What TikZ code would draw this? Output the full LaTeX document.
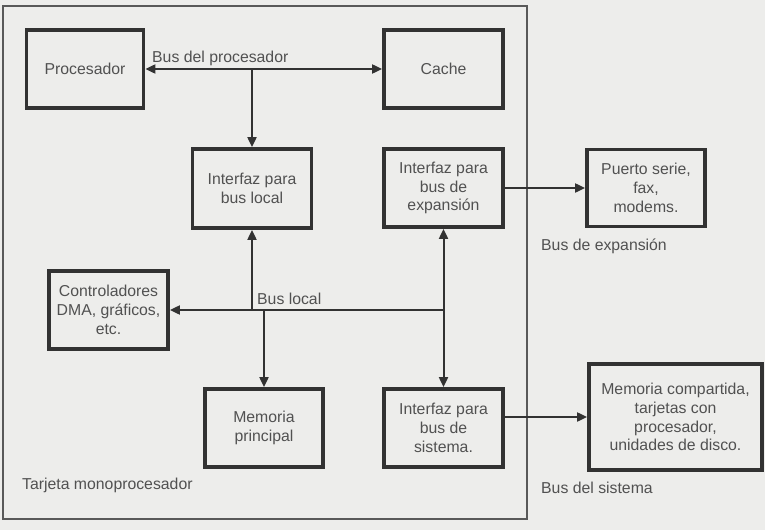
\documentclass[tikz,border=0pt]{standalone}
\usepackage{fontspec}
\setmainfont{Liberation Sans}
\usetikzlibrary{arrows.meta}
\definecolor{paper}{RGB}{237,237,235}
\definecolor{ink}{RGB}{50,50,50}
\begin{document}
\begin{tikzpicture}[x=1pt,y=-1pt]
% Styles
\tikzset{
  unit/.style={draw=ink,line width=3.8pt,fill=paper,text=ink!85,align=center,
    inner sep=0pt,font=\fontsize{15.8}{18.8}\selectfont},
  bus/.style={draw=ink,line width=2pt},
  tip/.style={bus,-{Triangle[length=10pt,width=9pt]}},
  bitip/.style={bus,{Triangle[length=10pt,width=9pt]}-{Triangle[length=10pt,width=9pt]}},
  buslabel/.style={anchor=west,text=ink!85,inner sep=0pt,font=\fontsize{15.8}{18}\selectfont}
}
% Draw the page
\useasboundingbox (0,0) rectangle (782,530);
\fill[paper] (0,0) rectangle (782,530);
\draw[line width=1.4pt,draw=gray!70!black] (3,6) rectangle (527,519);

% the units
\node[unit,minimum width=117pt,minimum height=78pt] (proc) at (85,69) {Procesador};
\node[unit,minimum width=119pt,minimum height=78pt] (cache) at (443.5,69) {Cache};
\node[unit,minimum width=119pt,minimum height=79pt] (local) at (252,188.5) {Interfaz para\\bus local};
\node[unit,minimum width=119pt,minimum height=78pt] (exp) at (443.5,188) {Interfaz para\\bus de\\expansión};
\node[unit,minimum width=118pt,minimum height=77pt] (serie) at (646,188) {Puerto serie,\\fax,\\modems.};
\node[unit,minimum width=119pt,minimum height=78pt] (dma) at (108.5,310) {Controladores\\DMA, gráficos,\\etc.};
\node[unit,minimum width=118pt,minimum height=78pt] (mem) at (264,428) {Memoria\\principal};
\node[unit,minimum width=119pt,minimum height=78pt] (sis) at (443.5,428) {Interfaz para\\bus de\\sistema.};
\node[unit,minimum width=173pt,minimum height=106pt] (comp) at (675.5,417) {Memoria compartida,\\tarjetas con\\procesador,\\unidades de disco.};

% the buses
\coordinate (pbus) at (252,69);
\coordinate (lbus) at (252,310);
\draw[bitip] (proc.east) -- (cache.west);
\draw[tip] (pbus) -- (local.north);
\draw[tip] (lbus) -- (local.south);
\draw[tip] (lbus -| exp.south) -- (dma.east);
\draw[tip] (lbus -| mem.north) -- (mem.north);
\draw[tip] (lbus -| exp.south) -- (exp.south);
\draw[tip] (lbus -| sis.north) -- (sis.north);
\draw[tip] (exp.east) -- (serie.west);
\draw[tip] (sis.east |- comp.west) -- (comp.west);

% the labels
\node[buslabel] (lproc) at (152,58) {Bus del procesador};
\node[buslabel] (llocal) at (257,299) {Bus local};
\node[buslabel] (lexp) at (541,246) {Bus de expansión};
\node[buslabel] (lsis) at (541,488) {Bus del sistema};
\node[buslabel] (ltarj) at (22,485) {Tarjeta monoprocesador};

% page edge
\fill[white] (765,0) rectangle (782,530);
\end{tikzpicture}
\end{document}
